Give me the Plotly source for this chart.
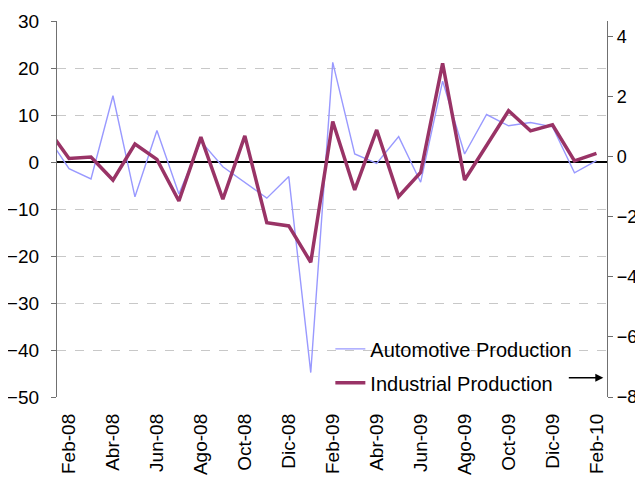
import plotly.graph_objects as go

months = ["Ene-08", "Feb-08", "Mar-08", "Abr-08", "May-08", "Jun-08", "Jul-08",
          "Ago-08", "Sep-08", "Oct-08", "Nov-08", "Dic-08", "Ene-09", "Feb-09",
          "Mar-09", "Abr-09", "May-09", "Jun-09", "Jul-09", "Ago-09", "Sep-09",
          "Oct-09", "Nov-09", "Dic-09", "Ene-10", "Feb-10"]

automotive = [5.5, -1.4, -3.6, 14.1, -7.4, 6.7, -6.8, 4.4, -1.0, -4.3, -7.7, -3.1,
              -44.8, 21.2, 1.7, -0.3, 5.4, -4.3, 17.2, 1.7, 10.1, 7.7, 8.4, 7.5,
              -2.3, 0.3]

industrial = [0.97, -0.05, 0.0, -0.77, 0.43, -0.08, -1.47, 0.66, -1.41, 0.70,
              -2.19, -2.30, -3.51, 1.18, -1.10, 0.90, -1.32, -0.52, 3.12, -0.77,
              0.38, 1.54, 0.87, 1.07, -0.13, 0.12]

left_ticks = [-50, -40, -30, -20, -10, 0, 10, 20, 30]
right_ticks = [-8, -6, -4, -2, 0, 2, 4]

# month index: Feb-08 = 0
x = [i - 1 for i in range(len(months))]
label_vals = [v for v in x if v >= 0 and v % 2 == 0]
label_text = [months[v + 1] for v in label_vals]

FONT = "Liberation Sans"
XR = [-0.547, 24.48]

fig = go.Figure()
fig.add_trace(go.Scatter(
    x=x, y=automotive, mode="lines", name="Automotive Production",
    line=dict(color="#9999FF", width=1.4), legend="legend"))
fig.add_trace(go.Scatter(
    x=x, y=industrial, mode="lines", name="Industrial Production",
    line=dict(color="#993366", width=3.5), yaxis="y2", legend="legend2"))

# the page body adds an 8px margin, so the figure is 8px smaller
fig.update_layout(
    width=635, height=469,
    margin=dict(l=49, r=36, t=13, b=80, autoexpand=False),
    paper_bgcolor="white", plot_bgcolor="white",
    font=dict(family=FONT, size=19, color="black"),
    xaxis=dict(range=XR, tickvals=label_vals, ticktext=label_text,
               tickangle=-90, ticks="", showgrid=False, zeroline=False,
               showline=False, ticklabelstandoff=12, automargin=False,
               tickfont=dict(family=FONT, size=19, color="black")),
    xaxis2=dict(range=XR, overlaying="x", anchor="free", position=0.625,
                side="bottom", tick0=XR[0], dtick=2, ticks="outside",
                ticklen=5, tickwidth=1, tickcolor="black", automargin=False,
                showticklabels=False, showgrid=False, zeroline=False,
                showline=False),
    yaxis=dict(range=[-50, 30], tickvals=left_ticks, showgrid=True,
               gridcolor="#C8C8C8", griddash="dash", gridwidth=1,
               zeroline=True, zerolinecolor="black", zerolinewidth=1.5,
               showline=True, linecolor="#707070", linewidth=1.2,
               ticks="outside", ticklen=5, tickcolor="#707070",
               ticklabelstandoff=8, automargin=False,
               tickfont=dict(family=FONT, size=19, color="black")),
    yaxis2=dict(range=[-8, 4.53], tickvals=right_ticks, overlaying="y",
                side="right", showgrid=False, zeroline=False,
                showline=True, linecolor="#707070", linewidth=1.2,
                ticks="outside", ticklen=5, tickcolor="#707070",
                ticklabelstandoff=0, automargin=False,
                tickfont=dict(family=FONT, size=18, color="black")),
    legend=dict(x=0.497, y=0.128, xanchor="left", yanchor="middle",
                bgcolor="rgba(0,0,0,0)", font=dict(family=FONT, size=20),
                itemwidth=30),
    legend2=dict(x=0.497, y=0.038, xanchor="left", yanchor="middle",
                 bgcolor="rgba(0,0,0,0)", font=dict(family=FONT, size=20),
                 itemwidth=30),
    showlegend=True,
)

fig.add_annotation(
    x=0.9933, y=0.0513, xref="paper", yref="paper", text="",
    showarrow=True, ax=-36, ay=0, arrowhead=2, arrowsize=1,
    arrowwidth=1.6, arrowcolor="black")

fig.write_html("out.html")
